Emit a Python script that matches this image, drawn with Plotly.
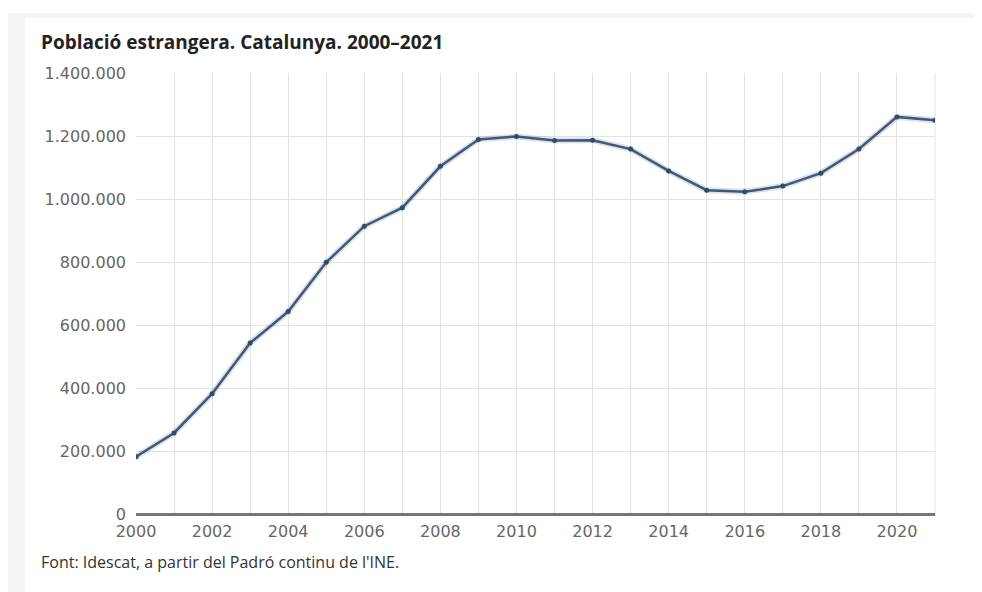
import plotly.graph_objects as go

years = list(range(2000, 2022))
poblacio = [181590, 257320, 382020, 543008, 642846, 798904, 913757, 972507,
            1103790, 1189279, 1198538, 1185852, 1186779, 1158472, 1089214,
            1028062, 1022864, 1040998, 1082099, 1158711, 1260619, 1249829]

title_text = "Població estrangera. Catalunya. 2000–2021"
source_text = "Font: Idescat, a partir del Padró continu de l'INE."

OFF = 8  # browser body margin
W, H = 982 - OFF, 592 - OFF
L, T = 136 - OFF, 73 - OFF
R = W - L - 799
B = H - T - 441
pw, ph = W - L - R, H - T - B

def px(x):
    return (x - OFF - L) / pw

def py(y):
    return (H + OFF - B - y) / ph

fig = go.Figure()
# soft shadow
fig.add_trace(go.Scatter(x=years, y=poblacio, mode="lines",
                         line=dict(color="rgba(0,0,0,0.12)", width=6),
                         hoverinfo="skip", showlegend=False))
fig.add_trace(go.Scatter(x=years, y=poblacio, mode="lines+markers",
                         line=dict(color="#3b5a80", width=2.5),
                         marker=dict(color="#2f4c70", size=5),
                         showlegend=False))

fig.update_layout(
    width=W, height=H,
    margin=dict(l=L, r=R, t=T, b=B),
    paper_bgcolor="white", plot_bgcolor="white",
    separators=",.",
    font=dict(family="DejaVu Sans", color="#666"),
    shapes=[
        dict(type="rect", xref="paper", yref="paper", layer="below",
             x0=px(7), x1=1.3, y0=-0.3, y1=py(13),
             fillcolor="#f4f4f4", line=dict(width=0)),
        dict(type="rect", xref="paper", yref="paper", layer="below",
             x0=px(25), x1=1.3, y0=-0.3, y1=py(18),
             fillcolor="white", line=dict(width=0)),
        dict(type="line", xref="paper", yref="paper", layer="below",
             x0=1, x1=1, y0=0, y1=1, line=dict(color="#e3e3e3", width=1)),
    ],
    annotations=[
        dict(text="<b>" + title_text + "</b>", xref="paper", yref="paper",
             x=px(39), y=py(42), xanchor="left", yanchor="middle",
             showarrow=False, font=dict(size=19, color="#222", family="Open Sans")),
        dict(text=source_text, xref="paper", yref="paper",
             x=px(39), y=py(562), xanchor="left", yanchor="middle",
             showarrow=False, font=dict(size=16, color="#333", family="Open Sans")),
    ],
)

fig.update_xaxes(range=[2000, 2021], dtick=2, tick0=2000,
                 showgrid=True, gridcolor="#e3e3e3", gridwidth=1,
                 minor=dict(dtick=1, tick0=2000, showgrid=True, gridcolor="#e3e3e3"),
                 showline=False, zeroline=False, ticks="",
                 ticklabelstandoff=6,
                 tickfont=dict(size=16, color="#666"))
fig.update_yaxes(range=[0, 1400000], dtick=200000, tickformat=",d",
                 showgrid=True, gridcolor="#e3e3e3", gridwidth=1,
                 zeroline=True, zerolinecolor="#777", zerolinewidth=2.5,
                 ticks="", ticklabelstandoff=9,
                 tickfont=dict(size=16, color="#666"))

fig.write_html("out.html")
